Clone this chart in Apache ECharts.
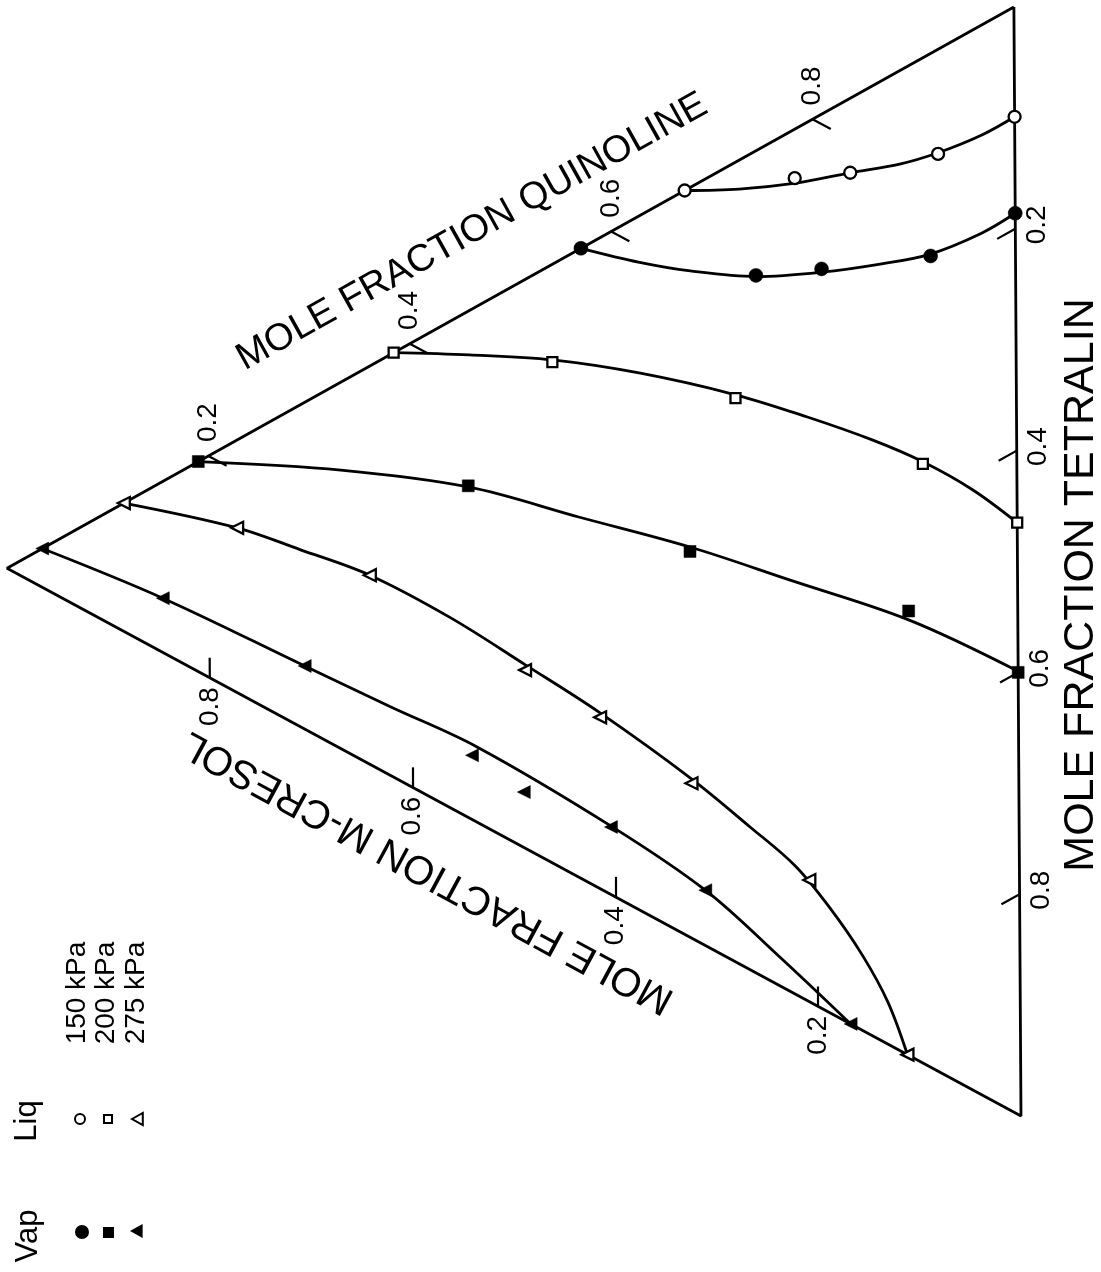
<!DOCTYPE html>
<html>
<head>
<meta charset="utf-8">
<title>Quinoline / m-Cresol / Tetralin VLE</title>
<script src="https://cdn.jsdelivr.net/npm/echarts@6/dist/echarts.min.js"></script>
<style>
  html, body { margin: 0; padding: 0; background: #fff; }
  #chart { width: 1101px; height: 1272px; }
</style>
</head>
<body>
<div id="chart"></div>
<script>
// Compositions are mole fractions [quinoline, m-cresol, tetralin].

// Measured points
const liq150 = [[0.673, 0.327, 0], [0.738, 0.218, 0.044], [0.770, 0.163, 0.067], [0.830, 0.076, 0.094], [0.901, 0, 0.099]];
const vap150 = [[0.570, 0.430, 0], [0.631, 0.257, 0.112], [0.669, 0.192, 0.139], [0.734, 0.084, 0.182], [0.814, 0, 0.186]];
const liq200 = [[0.384, 0.616, 0], [0.453, 0.459, 0.088], [0.510, 0.278, 0.212], [0.542, 0.093, 0.365], [0.535, 0, 0.465]];
const vap200 = [[0.190, 0.810, 0], [0.300, 0.543, 0.157], [0.349, 0.324, 0.327], [0.402, 0.108, 0.490], [0.400, 0, 0.600]];
const liq275 = [[0.116, 0.884, 0], [0.149, 0.772, 0.079], [0.171, 0.641, 0.188], [0.161, 0.488, 0.351], [0.155, 0.414, 0.431], [0.140, 0.324, 0.536], [0.110, 0.208, 0.682], [0, 0.112, 0.888]];
const vap275 = [[0.035, 0.965, 0], [0.049, 0.846, 0.105], [0.057, 0.706, 0.237], [0.058, 0.541, 0.401], [0.050, 0.490, 0.460], [0.061, 0.404, 0.535], [0.050, 0.311, 0.639], [0, 0.168, 0.832]];

// Calculated phase envelopes
const liq150Calc = [[0.673, 0.327, 0], [0.701, 0.273, 0.026], [0.734, 0.217, 0.049], [0.770, 0.163, 0.067], [0.802, 0.114, 0.084], [0.831, 0.076, 0.093], [0.869, 0.032, 0.099], [0.901, 0, 0.099]];
const vap150Calc = [[0.570, 0.430, 0], [0.586, 0.372, 0.042], [0.603, 0.322, 0.075], [0.630, 0.257, 0.113], [0.666, 0.192, 0.142], [0.702, 0.134, 0.164], [0.735, 0.085, 0.180], [0.779, 0.034, 0.187], [0.814, 0, 0.186]];
const liq200Calc = [[0.384, 0.616, 0], [0.419, 0.541, 0.040], [0.455, 0.459, 0.086], [0.486, 0.372, 0.142], [0.513, 0.278, 0.209], [0.528, 0.207, 0.265], [0.539, 0.143, 0.318], [0.544, 0.093, 0.363], [0.543, 0.044, 0.413], [0.535, 0, 0.465]];
const vap200Calc = [[0.190, 0.810, 0], [0.252, 0.669, 0.079], [0.299, 0.543, 0.158], [0.326, 0.433, 0.241], [0.353, 0.324, 0.323], [0.372, 0.225, 0.403], [0.394, 0.108, 0.498], [0.401, 0, 0.599]];
const liq275Calc = [[0.116, 0.884, 0], [0.149, 0.772, 0.079], [0.160, 0.710, 0.130], [0.171, 0.641, 0.188], [0.172, 0.562, 0.266], [0.166, 0.488, 0.346], [0.159, 0.414, 0.427], [0.144, 0.324, 0.532], [0.129, 0.266, 0.605], [0.116, 0.222, 0.662], [0.095, 0.188, 0.717], [0.068, 0.156, 0.776], [0.038, 0.131, 0.831], [0, 0.112, 0.888]];
const vap275Calc = [[0.035, 0.965, 0], [0.049, 0.846, 0.105], [0.057, 0.706, 0.237], [0.062, 0.622, 0.316], [0.068, 0.536, 0.396], [0.062, 0.405, 0.533], [0.050, 0.311, 0.639], [0.026, 0.238, 0.736], [0, 0.168, 0.832]];

// Axis ticks and text
const tickValues = [0.2, 0.4, 0.6, 0.8];
const axisTitles = { quinoline: 'MOLE FRACTION QUINOLINE', mcresol: 'MOLE FRACTION M-CRESOL', tetralin: 'MOLE FRACTION TETRALIN' };
const pressureLabels = ['150 kPa', '200 kPa', '275 kPa'];
const phaseLabels = ['Liq', 'Vap'];

// Corners of the (rotated) triangle in the unit frame of the grid
const CORNER = { quinoline: [0.993, 0], mcresol: [0, 0.506], tetralin: [1, 1] };
function project(p) {
  const q = p[0], c = p[1], t = p[2];
  return [
    q * CORNER.quinoline[0] + c * CORNER.mcresol[0] + t * CORNER.tetralin[0],
    q * CORNER.quinoline[1] + c * CORNER.mcresol[1] + t * CORNER.tetralin[1]
  ];
}

const TICK = 0.018;
const ticks = [];
tickValues.forEach(v => {
  ticks.push({ coords: [project([1 - v, 0, v]), project([1 - v - TICK, TICK, v])] });   // tetralin
  ticks.push({ coords: [project([v, 1 - v, 0]), project([v, 1 - v - TICK, TICK])] });   // quinoline
  ticks.push({ coords: [project([0, v, 1 - v]), project([TICK, v, 1 - v - TICK])] });   // m-cresol
});

const textFont = 'Liberation Sans';
const LINE_W = 2.8;

function tickLabelSeries(pointOf, shift) {
  return {
    type: 'scatter', symbolSize: 1, silent: true, z: 5, clip: false,
    itemStyle: { color: 'rgba(0,0,0,0)', opacity: 1 },
    label: {
      show: true, position: 'inside', rotate: 90, color: '#000', opacity: 1,
      textBorderWidth: 0, fontFamily: textFont, fontSize: 28,
      formatter: p => p.value[2].toFixed(1)
    },
    data: tickValues.map(v => {
      const xy = project(pointOf(v));
      return [xy[0] + shift[0], xy[1] + shift[1], v];
    })
  };
}

function curve(data) {
  return {
    type: 'line', data: data.map(project), smooth: 0.35, symbol: 'none', silent: true, z: 3, clip: false,
    lineStyle: { color: '#000', width: LINE_W, opacity: 1 }
  };
}

function points(data, symbol, size, filled, rotate) {
  return {
    type: 'scatter', data: data.map(project), symbol: symbol, symbolSize: size,
    symbolRotate: rotate || 0, silent: true, z: 4, clip: false,
    itemStyle: filled
      ? { color: '#000', borderColor: '#000', borderWidth: 0.5, opacity: 1 }
      : { color: '#fff', borderColor: '#000', borderWidth: 2.3, opacity: 1 }
  };
}

const chart = echarts.init(document.getElementById('chart'), null, { renderer: 'canvas' });

function rotText(text, x, y, deg, size) {
  return {
    type: 'text', x: x, y: y, rotation: deg * Math.PI / 180, silent: true,
    style: { text: text, fill: '#000', fontFamily: textFont, fontSize: size, align: 'center', verticalAlign: 'middle' }
  };
}
function leftTriangle(x, y, s, filled) {
  return {
    type: 'polygon', silent: true,
    shape: { points: [[x - s, y], [x + s * 0.8, y - s], [x + s * 0.8, y + s]] },
    style: filled ? { fill: '#000' } : { fill: '#fff', stroke: '#000', lineWidth: 2 }
  };
}

const graphics = [
  rotText(axisTitles.tetralin, 1081, 585, 90, 43),
  rotText(axisTitles.quinoline, 472, 232, 29.1, 38),
  rotText(axisTitles.mcresol, 428, 872, 151.6, 40),
  // legend
  rotText(phaseLabels[0], 27, 1121, 90, 31),
  rotText(phaseLabels[1], 28, 1236, 90, 31),
  rotText(pressureLabels[0], 77, 993, 90, 28),
  rotText(pressureLabels[1], 106, 993, 90, 28),
  rotText(pressureLabels[2], 136, 993, 90, 28),
  { type: 'circle', silent: true, shape: { cx: 80, cy: 1119, r: 5 }, style: { fill: '#fff', stroke: '#000', lineWidth: 2 } },
  { type: 'rect', silent: true, shape: { x: 104, y: 1115, width: 8, height: 8 }, style: { fill: '#fff', stroke: '#000', lineWidth: 2 } },
  leftTriangle(138, 1119, 6, false),
  { type: 'circle', silent: true, shape: { cx: 82, cy: 1232, r: 7 }, style: { fill: '#000' } },
  { type: 'rect', silent: true, shape: { x: 103, y: 1227, width: 11, height: 11 }, style: { fill: '#000' } },
  leftTriangle(137, 1231, 7, true)
];

chart.setOption({
  animation: false,
  backgroundColor: '#fff',
  grid: { left: 7, top: 7, width: 1014, height: 1109, containLabel: false, show: false },
  xAxis: { type: 'value', min: 0, max: 1, show: false },
  yAxis: { type: 'value', min: 0, max: 1, inverse: true, show: false },
  graphic: graphics,
  series: [
    {
      type: 'line', symbol: 'none', silent: true, z: 2, clip: false,
      lineStyle: { color: '#000', width: LINE_W, opacity: 1 },
      data: [[1, 0, 0], [0, 1, 0], [0, 0, 1], [1, 0, 0]].map(project)
    },
    {
      type: 'lines', coordinateSystem: 'cartesian2d', silent: true, z: 2, clip: false,
      lineStyle: { color: '#000', width: 2.2, opacity: 1 },
      data: ticks
    },
    curve(liq150Calc), curve(vap150Calc),
    curve(liq200Calc), curve(vap200Calc),
    curve(liq275Calc), curve(vap275Calc),
    points(liq150, 'circle', 12, false),
    points(vap150, 'circle', 14, true),
    points(liq200, 'rect', 10, false),
    points(vap200, 'rect', 12, true),
    points(liq275, 'triangle', 12, false, 90),
    points(vap275, 'triangle', 13, true, 90),
    tickLabelSeries(v => [1 - v, 0, v], [0.0217, -0.0036]),
    tickLabelSeries(v => [v, 1 - v, 0], [0, -0.030]),
    tickLabelSeries(v => [0, v, 1 - v], [0, 0.026])
  ]
});
</script>
</body>
</html>
